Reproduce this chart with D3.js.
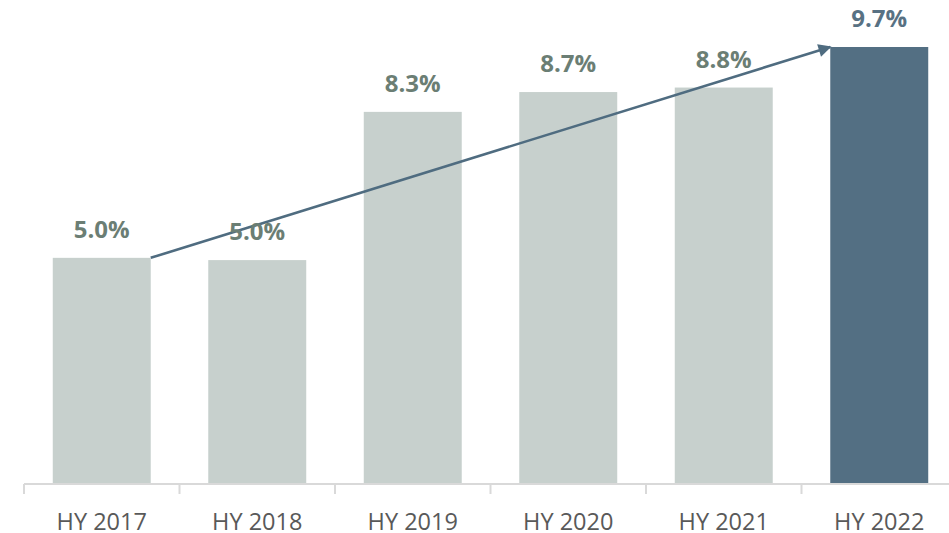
<!DOCTYPE html>
<html lang="en">
<head>
<meta charset="utf-8">
<script src="https://d3js.org/d3.v7.min.js"></script>
<style>
  body { margin: 0; background: #fff; }
  text { font-family: "Open Sans", sans-serif; }
</style>
</head>
<body>
<script>
// chart data
const periods = ["HY 2017", "HY 2018", "HY 2019", "HY 2020", "HY 2021", "HY 2022"];
const rates = [5.02, 4.97, 8.26, 8.7, 8.8, 9.7];
const highlight = ["HY 2022"];

const width = 949, height = 533;
const baseY = 484;

const svg = d3.select("body").append("svg")
    .attr("width", width)
    .attr("height", height);

const x = d3.scaleBand()
    .domain(periods)
    .range([24, 957])
    .paddingInner(0.37)
    .paddingOuter(0.185);

const y = d3.scaleLinear()
    .domain([0, 9.7])
    .range([baseY, 47]);

// arrowhead
svg.append("defs").append("marker")
    .attr("id", "arrow")
    .attr("viewBox", "0 0 10 10")
    .attr("refX", 9).attr("refY", 5)
    .attr("markerWidth", 6).attr("markerHeight", 5)
    .attr("markerUnits", "strokeWidth")
    .attr("orient", "auto")
  .append("path")
    .attr("d", "M0,0 L10,5 L0,10 z")
    .attr("fill", "#4f6c80");

// bars
svg.selectAll("rect.bar")
  .data(periods)
  .join("rect")
    .attr("class", "bar")
    .attr("x", d => x(d))
    .attr("width", x.bandwidth())
    .attr("y", (d, i) => y(rates[i]))
    .attr("height", (d, i) => baseY - y(rates[i]))
    .attr("fill", d => highlight.includes(d) ? "#536f83" : "#c7d0cd");

// trend arrow from first bar to last bar
const first = periods[0], last = periods[periods.length - 1];
svg.append("line")
    .attr("x1", x(first) + x.bandwidth())
    .attr("y1", y(rates[0]))
    .attr("x2", x(last))
    .attr("y2", y(rates[rates.length - 1]))
    .attr("stroke", "#4f6c80")
    .attr("stroke-width", 2.6)
    .attr("marker-end", "url(#arrow)");

// value labels
svg.selectAll("text.val")
  .data(periods)
  .join("text")
    .attr("class", "val")
    .attr("x", d => x(d) + x.bandwidth() / 2)
    .attr("y", (d, i) => y(rates[i]) - 20)
    .attr("text-anchor", "middle")
    .attr("font-size", 24)
    .attr("font-weight", "bold")
    .attr("fill", d => highlight.includes(d) ? "#587183" : "#6b7e74")
    .text((d, i) => rates[i].toFixed(1) + "%");

// x axis
const axis = svg.append("g")
    .attr("transform", `translate(0,${baseY})`)
    .call(d3.axisBottom(x).tickSize(0).tickPadding(0));
axis.select(".domain").attr("stroke", "#d9d9d9").attr("stroke-width", 2)
    .attr("d", `M24,0H${width}`);
axis.selectAll(".tick text")
    .attr("y", 46)
    .attr("dy", 0)
    .attr("font-size", 23.5)
    .attr("fill", "#595959")
    .attr("font-family", "Open Sans, sans-serif");

// category separators
const step = x.step();
axis.selectAll("line.sep")
  .data(d3.range(periods.length + 1))
  .join("line")
    .attr("class", "sep")
    .attr("x1", i => 24 + i * step)
    .attr("x2", i => 24 + i * step)
    .attr("y1", 0).attr("y2", 10)
    .attr("stroke", "#d9d9d9")
    .attr("stroke-width", 2);
</script>
</body>
</html>
